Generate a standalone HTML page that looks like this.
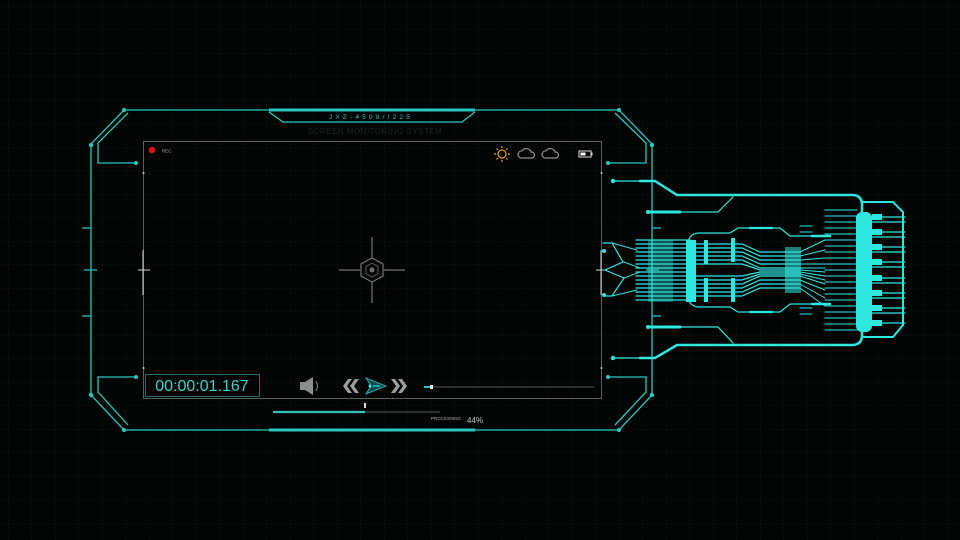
<!DOCTYPE html>
<html><head><meta charset="utf-8"><style>
html,body{margin:0;padding:0;background:#030505;}
svg{display:block}
text{font-family:"Liberation Sans",sans-serif}
</style></head><body>
<svg width="960" height="540" viewBox="0 0 960 540" xmlns="http://www.w3.org/2000/svg">
<defs>
<pattern id="g" width="23.5" height="23.5" patternUnits="userSpaceOnUse" x="8" y="6">
<path d="M0 0H23.5M0 0V23.5" stroke="#0e1a1a" stroke-width="1" stroke-dasharray="2 2"/>
</pattern>
</defs>
<rect width="960" height="540" fill="#030505"/>
<rect width="960" height="540" fill="url(#g)"/>

<g stroke="#2bc6c0" fill="none" stroke-width="1.3">
<!-- outer frame -->
<path d="M124 110H619L652 144V395L619 430H124L91 395V144Z"/>
<!-- inner brackets -->
<path d="M128 113L98 143V163H136"/>
<path d="M615 113L646 143V163H608"/>
<path d="M136 377H98V392L128 425"/>
<path d="M608 377H646V392L615 425"/>
<!-- side ticks -->
<path d="M82 228H91M82 316H91M84 270H97M652 228H661M652 316H661M646 270H659"/>
<!-- top tab -->
<path d="M269 112L283 122H462L475 112"/>
</g>
<g fill="#2bc6c0">
<circle cx="124" cy="110" r="2"/><circle cx="619" cy="110" r="2"/>
<circle cx="124" cy="430" r="2"/><circle cx="619" cy="430" r="2"/>
<circle cx="91" cy="145" r="2.2"/><circle cx="91" cy="395" r="2.2"/>
<circle cx="652" cy="145" r="2.2"/><circle cx="652" cy="395" r="2.2"/>
<circle cx="136" cy="163" r="2"/><circle cx="608" cy="163" r="2"/>
<circle cx="136" cy="377" r="2"/><circle cx="608" cy="377" r="2"/>
<rect x="269" y="108.5" width="206" height="3"/>
<rect x="269" y="428.5" width="206" height="3"/>
</g>
<text x="371" y="119" font-size="6.5" fill="#2bc6c0" text-anchor="middle" letter-spacing="3.2">JXZ-4508//225</text>
<text x="375" y="134" font-size="8" fill="#1c2626" text-anchor="middle" letter-spacing="0.5">SCREEN MONITORING SYSTEM</text>

<!-- screen -->
<rect x="143.5" y="141.5" width="458" height="257" fill="none" stroke="#5a5e5e" stroke-width="1"/>
<g stroke="#cfd4d4" stroke-width="1">
<path d="M143 250V295M138 270H150M601 250V295M596 270H607"/>
</g>
<g fill="#ccc"><circle cx="143.5" cy="173" r="1"/><circle cx="601.5" cy="173" r="1"/><circle cx="143.5" cy="368" r="1"/><circle cx="601.5" cy="368" r="1"/></g>
<circle cx="152" cy="150" r="3.2" fill="#e01010"/>
<text x="162" y="152.5" font-size="4.5" fill="#aaa">REC</text>
<!-- sun -->
<g stroke="#e0a020" stroke-width="1.2" fill="none">
<circle cx="502" cy="154" r="4"/>
<path d="M502 146V148M502 160V162M494 154H496M508 154H510M496.5 148.5L498 150M506 158L507.5 159.5M507.5 148.5L506 150M498 158L496.5 159.5"/>
</g>
<g stroke="#8a9090" stroke-width="1.2" fill="none">
<path d="M521 158H532A3 3 0 0 0 531 152A5 5 0 0 0 522 151A3.5 3.5 0 0 0 521 158Z"/>
<path d="M545 158H556A3 3 0 0 0 555 152A5 5 0 0 0 546 151A3.5 3.5 0 0 0 545 158Z"/>
</g>
<rect x="579" y="151" width="12" height="6" fill="none" stroke="#ddd" stroke-width="1"/>
<rect x="580.5" y="152.5" width="5" height="3" fill="#fff"/>
<rect x="591" y="152.5" width="1.5" height="3" fill="#ddd"/>
<!-- crosshair -->
<g stroke="#707575" stroke-width="1.2" fill="none">
<path d="M339 270H360M384 270H405M372 237V258M372 282V303"/>
<path d="M372 258L383 264V276L372 282L361 276V264Z"/>
<path d="M372 263L378 266.5V273.5L372 277L366 273.5V266.5Z" stroke="#4a5050"/>
</g>
<circle cx="372" cy="270" r="2.5" fill="#6a7070"/>
<!-- timecode -->
<rect x="145.5" y="374.5" width="114" height="22" fill="none" stroke="#1f6f6c" stroke-width="1"/>
<text x="202" y="391" font-size="16" fill="#3cd0cc" text-anchor="middle">00:00:01.167</text>
<!-- controls -->
<path d="M300 382H305L313 377V395L305 390H300Z" fill="#8a8e8e"/>
<path d="M316 381Q319 386 316 391" stroke="#8a8e8e" fill="none"/>
<path d="M348 379L343 386L348 393H352L347 386L352 379ZM355 379L350 386L355 393H359L354 386L359 379Z" fill="#9a9e9e"/>
<path d="M366 378L386 386L366 394L371 386Z" fill="#0f4a4a" stroke="#2bc6c0" stroke-width="0.8"/>
<circle cx="370" cy="386" r="1.5" fill="#3ee"/>
<path d="M373 386H380" stroke="#3ee"/>
<path d="M391 379L396 386L391 393H395L400 386L395 379ZM398 379L403 386L398 393H402L407 386L402 379Z" fill="#9a9e9e"/>
<path d="M425 387H594" stroke="#2a2e2e" stroke-width="2"/>
<path d="M424 387H431" stroke="#2bc6c0" stroke-width="2"/>
<rect x="430" y="385" width="3" height="4" fill="#fff"/>
<!-- bottom bar -->
<path d="M273 412H365" stroke="#2bc6c0" stroke-width="2.2"/>
<path d="M365 412H440" stroke="#2a2e2e" stroke-width="2.2"/>
<rect x="364" y="403" width="2" height="5" fill="#ddd"/>
<text x="431" y="420" font-size="4.5" fill="#aaa">PROCESSING</text>
<text x="467" y="423" font-size="8" fill="#bcc">44%</text>

<!-- right circuit -->
<g stroke="#2ee8e0" fill="none" stroke-linecap="round">
<path d="M613 181H640" stroke-width="1.2"/>
<path d="M640 181H655L677 195H852Q862 195 862 205V335Q862 345 852 345H677L655 358H640" stroke-width="2.5"/>
<path d="M640 358H613" stroke-width="1.2"/>
<path d="M648 212H680" stroke-width="3"/>
<path d="M680 212H718L733 197" stroke-width="1.2"/>
<path d="M648 327H680" stroke-width="3"/>
<path d="M680 327H718L733 343" stroke-width="1.2"/>
<path d="M862 202H893L903 212V325L893 337H862" stroke-width="2"/>
<!-- inner body -->
<path d="M688 242Q690 233 700 233H730L738 228H780L790 236H812" stroke-width="1.2"/>
<path d="M688 298Q690 307 700 307H730L738 312H780L790 304H812" stroke-width="1.2"/>
<path d="M750 228H772M750 312H772" stroke-width="2.2"/>
<path d="M812 236H830M812 304H830" stroke-width="2.5"/>
<!-- left zigzag -->
<path d="M603 243H612L623 262L605 270L624 278L612 296H603" stroke-width="1.2"/>
<path d="M612 243L637 250M612 296L637 290M624 262L640 268M624 278L640 272" stroke-width="1"/>
<!-- dense block lines -->
<path d="M636 240H690M636 244H690M636 248H690M636 252H690M636 256H690M636 260H690M636 264H690M636 268H690M636 272H690M636 276H690M636 280H690M636 284H690M636 288H690M636 292H690M636 296H690M636 300H690" stroke-width="1.2"/>
<!-- middle lines -->
<path d="M695 244H742L760 252H800M695 248H742L760 256H800M695 252H742L760 260H800M695 256H742L760 264H800M695 260H742L760 268H800M695 264H742L760 270H800" stroke-width="1.2"/>
<path d="M695 296H742L760 288H800M695 292H742L760 284H800M695 288H742L760 280H800M695 284H742L760 276H800M695 280H742L760 274H800M695 276H742L760 272H800" stroke-width="1.2"/>
<!-- fan -->
<path d="M800 252L825 240M800 256L825 250M800 260L825 258M800 264L825 264M800 268L825 268M800 270L825 272M800 272L825 276M800 274L825 280M800 276L825 284M800 280L825 290M800 284L825 298M800 288L825 306M800 226H812M800 232H812M800 314H812M800 308H812" stroke-width="1"/>
<path d="M825 210H857M825 216H857M825 222H857M825 228H857M825 234H857M825 240H857M825 246H857M825 252H857M825 258H857M825 264H857M825 270H857M825 276H857M825 282H857M825 288H857M825 294H857M825 300H857M825 306H857M825 312H857M825 318H857M825 324H857M825 330H857" stroke-width="1.1"/>
<!-- right stubs -->
<path d="M872 217H905M872 222H905M872 232H905M872 237H905M872 247H905M872 252H905M872 262H905M872 267H905M872 278H905M872 283H905M872 293H905M872 298H905M872 308H905M872 313H905M872 323H905" stroke-width="1.2"/>
</g>
<g fill="#2ee8e0">
<circle cx="613" cy="181" r="2.2"/><circle cx="613" cy="358" r="2.2"/>
<circle cx="648" cy="212" r="2"/><circle cx="648" cy="327" r="2"/>
<circle cx="604" cy="251" r="2"/><circle cx="604" cy="295" r="2"/>
<rect x="686" y="240" width="10" height="62"/>
<rect x="704" y="240" width="4" height="24"/><rect x="704" y="278" width="4" height="24"/>
<rect x="731" y="238" width="4" height="24"/><rect x="731" y="278" width="4" height="24"/>
<rect x="785" y="247" width="16" height="46" fill-opacity="0.55"/>
<rect x="648" y="240" width="25" height="62" fill-opacity="0.35"/>
<rect x="856" y="212" width="16" height="120" rx="6"/>
<rect x="872" y="214" width="10" height="6"/><rect x="872" y="229" width="10" height="6"/>
<rect x="872" y="244" width="10" height="6"/><rect x="872" y="259" width="10" height="6"/>
<rect x="872" y="275" width="10" height="6"/><rect x="872" y="290" width="10" height="6"/>
<rect x="872" y="305" width="10" height="6"/><rect x="872" y="320" width="10" height="6"/>
</g>
</svg>
</body></html>
